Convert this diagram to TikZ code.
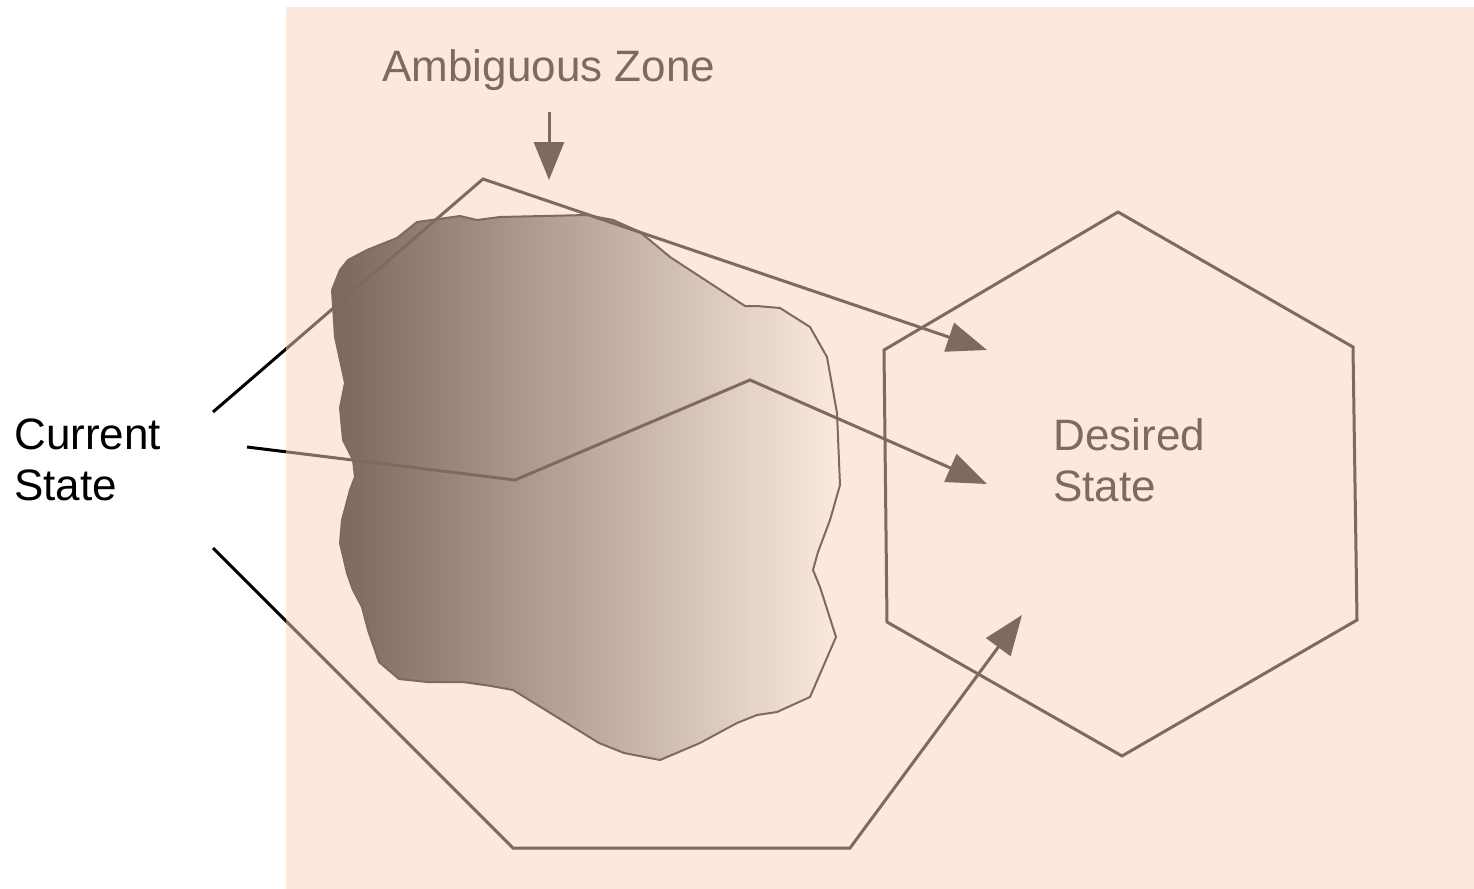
\documentclass[tikz,border=0pt]{standalone}
\usepackage{fontspec}
\setmainfont{Liberation Sans}
\usetikzlibrary{arrows.meta}
\definecolor{peach}{RGB}{254,232,220}
\definecolor{bline}{RGB}{127,106,94}
\definecolor{bdark}{RGB}{124,103,91}
\definecolor{blight}{RGB}{252,234,223}
\newcommand\statepaths[1]{%
  \draw[conn,#1,tip] (csA) -- (a1) -- (dsA);
  \draw[conn,#1,tip] (csB) -- (b1) -- (b2) -- (dsB);
  \draw[conn,#1,tip] (csC) -- (c1) -- (c2) -- (dsC);}
\begin{document}
\begin{tikzpicture}[x=0.5pt,y=-0.5pt,
  conn/.style={line width=1.5pt, line join=miter},
  tip/.style={-{Triangle[length=20pt,width=15pt]}},
  lbl/.style={inner sep=0pt, font=\fontsize{22}{25.5}\selectfont, align=left},
  outl/.style={bline, line width=1.5pt, line join=miter}]
\useasboundingbox (0,0) rectangle (1474,889);
\fill[white] (0,0) rectangle (1474,889);
\fill[peach] (286,7) rectangle (1474,889);
% blob
\path[shade, left color=bdark, right color=blight, draw=bline, line width=1pt, line join=round]
  (417,222) -- (460,216) -- (477,220) -- (500,217) -- (587,215) -- (613,220)
  -- (640,232) -- (670,257) -- (745,306) -- (757,306) -- (780,308) -- (810,327)
  -- (827,357) -- (837,413) -- (840,485) -- (830,520) -- (818,552) -- (813,570)
  -- (820,587) -- (836,637) -- (810,697) -- (777,712) -- (757,715) -- (737,723)
  -- (700,743) -- (660,760) -- (624,753) -- (599,743) -- (513,690) -- (491,686)
  -- (463,682) -- (427,682) -- (399,679) -- (379,662) -- (368,630) -- (362,607)
  -- (353,590) -- (347,573) -- (340,543) -- (342,520) -- (350,490) -- (355,477)
  -- (353,460) -- (343,440) -- (340,408) -- (345,383) -- (335,337) -- (332,290)
  -- (340,270) -- (348,260) -- (367,250) -- (397,238) -- cycle;
% hexagon
\draw[outl] (1118,212) -- (1353,347) -- (1357,620) -- (1122,756) -- (887,622) -- (884,350) -- cycle;
% text
\node[lbl, anchor=base west, text=bline] (amb) at (382,81) {Ambiguous Zone};
\node[lbl, anchor=north west, text=black] (cur) at (14,418) {Current\\State};
\node[lbl, anchor=north west, text=bline] (des) at (1053,418) {Desired\\State};
% connector points
\coordinate (ambT) at (549,112);
\coordinate (ambH) at (549,180);
\coordinate (csA) at (213,412);
\coordinate (a1) at (483,179);
\coordinate (dsA) at (987,350);
\coordinate (csB) at (247,447);
\coordinate (b1) at (515,480);
\coordinate (b2) at (750,380);
\coordinate (dsB) at (987,484);
\coordinate (csC) at (213,548);
\coordinate (c1) at (513,848);
\coordinate (c2) at (850,848);
\coordinate (dsC) at (1022,615);
\draw[conn, bline, -{Triangle[length=19pt,width=15pt]}] (ambT) -- (ambH);
\begin{scope}
  \clip (0,0) rectangle (286,889);
  \statepaths{black}
\end{scope}
\begin{scope}
  \clip (286,0) rectangle (1474,889);
  \statepaths{bline}
\end{scope}
\end{tikzpicture}
\end{document}
